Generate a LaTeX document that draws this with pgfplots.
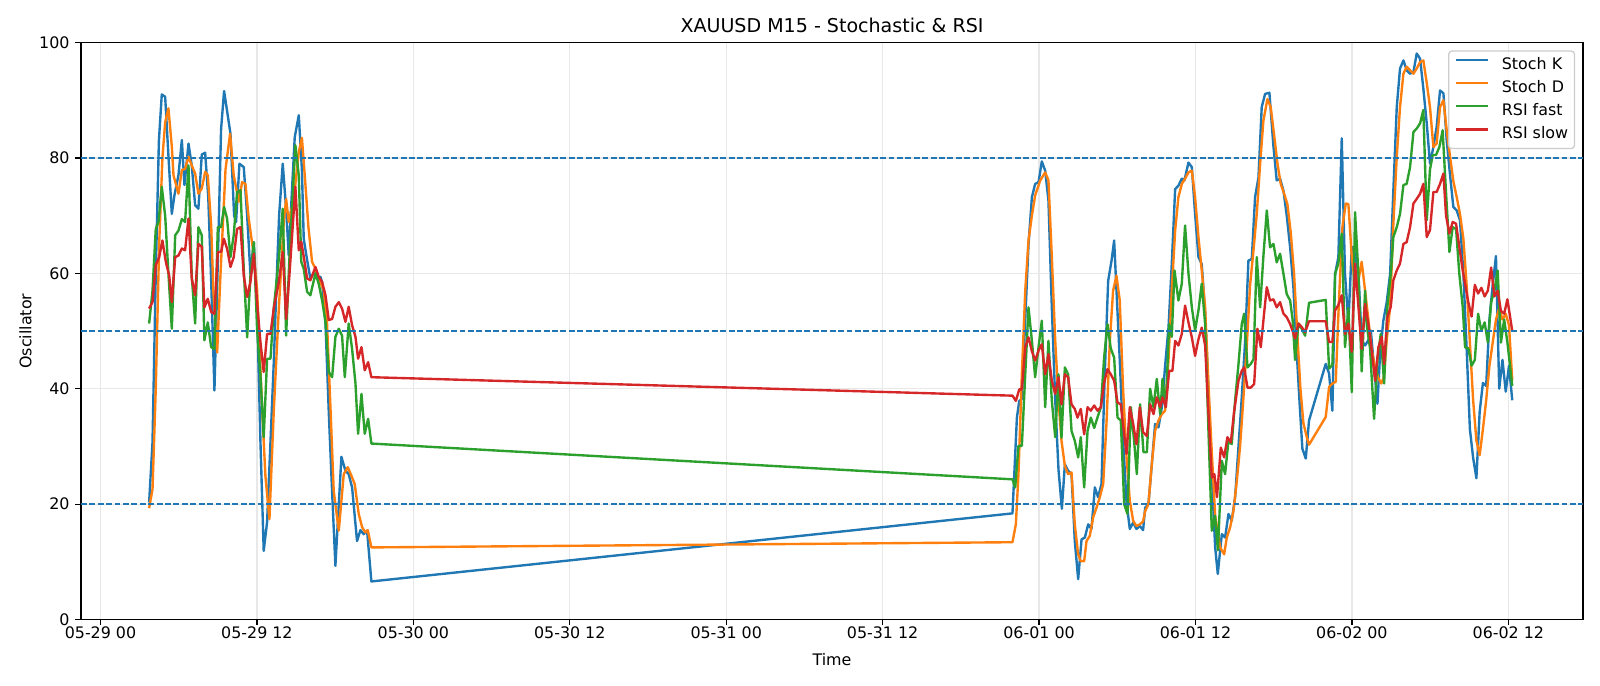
\documentclass[border=0pt]{standalone}
\usepackage{fontspec}
\setmainfont{DejaVu Sans}
\usepackage{pgfplots}
\pgfplotsset{compat=1.18}
\definecolor{tabblue}{HTML}{1F77B4}
\definecolor{taborange}{HTML}{FF7F0E}
\definecolor{tabgreen}{HTML}{2CA02C}
\definecolor{tabred}{HTML}{D62728}
\definecolor{gridgray}{HTML}{E8E8E8}
\definecolor{legframe}{HTML}{CCCCCC}

\begin{document}
\begin{tikzpicture}
% page = 1008pt x 432pt (14in x 6in -> 1600 x 686 px)
\path[use as bounding box] (-51pt,-41.7pt) rectangle (957pt,390.3pt);
\begin{axis}[
    at={(0,0)}, anchor=south west,
    scale only axis, width=946.3pt, height=363.5pt,
    xmin=-1.5, xmax=113.73, ymin=0, ymax=100,
    xtick={0,12,...,108},
    xticklabels={05-29 00,05-29 12,05-30 00,05-30 12,05-31 00,05-31 12,06-01 00,06-01 12,06-02 00,06-02 12},
    ytick={0,20,...,100},
    /pgf/number format/assume math mode=true,
    tick label style={font=\fontsize{10}{12}\selectfont},
    xticklabel style={inner sep=0pt, anchor=north, yshift=-1pt},
    yticklabel style={inner sep=0pt, anchor=east, xshift=-3.5pt},
    tick align=outside, tick pos=left, major tick length=3.5pt,
    tick style={black, line width=0.8pt},
    axis line style={line width=0.8pt},
    grid=major, major grid style={gridgray, line width=0.8pt},
    title={XAUUSD M15 - Stochastic \& RSI},
    every axis title/.style={at={(axis description cs:0.5,1)}, anchor=base, yshift=6.5pt, font=\fontsize{12}{14.4}\selectfont},
    xlabel={Time},
    every axis x label/.style={at={(axis description cs:0.5,0)}, yshift=-25pt, anchor=center, font=\fontsize{10}{12}\selectfont},
    ylabel={Oscillator},
    every axis y label/.style={at={(axis description cs:0,0.5)}, xshift=-35pt, rotate=90, anchor=center, font=\fontsize{10}{12}\selectfont},
    legend style={at={(1,1)}, anchor=north east, xshift=-5pt, yshift=-5pt,
        draw=legframe, line width=0.8pt, rounded corners=2pt, fill=white, fill opacity=0.8, text opacity=1,
        font=\fontsize{10}{12}\selectfont, inner xsep=4pt, inner ysep=4pt, row sep=5pt, column sep=8pt,
        nodes={inner sep=0pt, text height=7.4pt, text depth=2.2pt}},
    legend cell align=left,
    legend image code/.code={\draw[#1] (0pt,3.3pt) -- (20pt,3.3pt);},
    every axis plot/.append style={line width=1.5pt, line join=round, mark=none},
]

% Stoch K
\addplot[tabblue] coordinates {
(3.73,20.3) (3.99,30.7) (4.24,60) (4.48,83) (4.70,91) (4.96,90.6) (5.22,80) (5.47,70.3)
(5.67,73.5) (5.98,77) (6.24,83.1) (6.44,75.3) (6.75,82.5) (7.00,78.7) (7.26,71.8) (7.51,71.2)
(7.77,80.6) (8.03,80.9) (8.27,73) (8.50,58) (8.74,39.7) (9.00,62) (9.25,85) (9.48,91.6)
(9.72,88) (9.97,84.2) (10.25,70) (10.40,68.9) (10.66,79) (10.99,78.4) (11.25,70) (11.50,59.9)
(11.76,65.4) (12.01,53.9) (12.27,30.8) (12.52,11.9) (12.78,16.9) (13.04,30.8) (13.30,45) (13.50,58)
(13.70,70) (13.98,79) (14.24,71.2) (14.44,63.1) (14.68,74) (14.90,83.6) (15.21,87.4) (15.45,78)
(15.59,66) (15.85,62.3) (16.10,59.1) (16.36,60) (16.62,59) (16.87,59.4) (17.00,58.5) (17.26,51.3)
(17.51,36) (17.77,22) (18.02,9.3) (18.28,20) (18.48,28.2) (18.79,25.8) (19.04,25.2) (19.30,22.9)
(19.50,18) (19.68,13.6) (19.94,15.5) (20.19,14.8) (20.45,15.4) (20.78,6.6)
(69.96,18.4) (70.30,35) (70.48,37.9) (70.68,38.2) (70.94,52) (71.19,65) (71.45,73.2) (71.70,75.5)
(71.96,75.8) (72.21,79.4) (72.47,77.8) (72.72,72.6) (72.98,54) (73.24,38) (73.49,26) (73.75,19.2)
(73.98,26.9) (74.23,25.8) (74.49,25.2) (74.74,13.6) (75.00,7) (75.26,13.9) (75.51,14.2) (75.77,16.5)
(76.02,15.7) (76.28,22.9) (76.53,21.2) (76.79,23.5) (77.04,42.5) (77.30,58.7) (77.56,62.2) (77.76,65.7)
(77.94,57) (78.19,45) (78.45,31) (78.71,20.3) (78.96,15.7) (79.22,16.8) (79.47,15.7) (79.73,16.2)
(79.98,15.5) (80.14,19.4) (80.39,20) (80.65,26.9) (80.90,33.9) (81.16,33.3) (81.42,36.8) (81.67,44)
(81.93,50.6) (82.18,61.6) (82.44,74.6) (82.69,75.2) (82.95,76.4) (83.15,76.1) (83.46,79.2) (83.72,78.4)
(83.97,70.3) (84.23,62.8) (84.48,61.6) (84.74,53.1) (84.99,40) (85.25,25) (85.51,12.5) (85.71,7.9)
(86.02,14.8) (86.27,14.2) (86.53,18.3) (86.78,17.1) (87.04,21.2) (87.30,30) (87.55,38.5) (87.81,48.3)
(88.06,62.2) (88.32,62.5) (88.57,73.2) (88.83,76.6) (89.08,88.8) (89.34,91.1) (89.67,91.3) (89.98,82)
(90.23,76.1) (90.49,76.4) (90.75,74.3) (91.00,70) (91.26,64.5) (91.51,57.6) (91.75,47) (92.00,37)
(92.20,29.6) (92.46,27.9) (92.71,34.5) (93.99,44.3) (94.25,42.6) (94.50,36.2) (94.71,59.9) (94.96,62.8)
(95.22,83.4) (95.47,59.9) (95.73,51.3) (95.99,64.6) (96.24,63.4) (96.50,60) (96.75,48.4) (97.01,47.5)
(97.26,48.4) (97.45,50.1) (97.65,44.9) (97.96,37.4) (98.16,46) (98.41,51.8) (98.67,55) (98.93,59.9)
(99.18,74.4) (99.44,88.8) (99.69,95.5) (99.95,96.9) (100.20,95.2) (100.46,94.6) (100.72,94.9) (100.97,98.1)
(101.23,97.2) (101.48,92) (101.74,86) (101.99,79) (102.25,81.9) (102.50,85.4) (102.76,91.7) (103.02,91.2)
(103.27,83.1) (103.53,77) (103.78,71.5) (104.04,70.9) (104.29,69.2) (104.55,60) (104.80,47) (105.05,33)
(105.30,28) (105.55,24.5) (105.80,36) (106.05,41) (106.30,40.5) (106.55,52) (106.80,58) (107.05,63)
(107.30,40) (107.55,45) (107.80,39.5) (108.05,44) (108.30,38)
};
\addlegendentry{Stoch K}

% Stoch D
\addplot[taborange] coordinates {
(3.73,19.3) (3.99,22.6) (4.24,40) (4.50,65) (4.75,80) (4.96,86.2) (5.21,88.6) (5.47,82)
(5.60,77) (5.98,73.8) (6.24,77.9) (6.49,78.1) (6.75,80.2) (7.00,78.7) (7.26,77.3) (7.51,73.8)
(7.77,74.7) (8.03,77.6) (8.23,77) (8.49,68.3) (8.66,56.8) (8.95,46.3) (9.20,59.6) (9.59,78)
(9.94,84.2) (10.22,77) (10.61,72.4) (10.86,75.8) (11.12,75.5) (11.37,69.5) (11.76,63.1) (12.01,57.3)
(12.40,36.5) (12.65,24.9) (12.96,17.4) (13.29,36) (13.68,53.9) (14.06,68.9) (14.24,72.9) (14.44,68.9)
(14.83,72.9) (15.21,81) (15.45,83.5) (15.70,76) (15.95,68) (16.23,62) (16.49,60.8) (16.74,59)
(17.13,57.1) (17.38,51.3) (17.64,36.8) (17.89,22.3) (18.28,15.4) (18.66,25.2) (18.97,26.4) (19.25,24.9)
(19.50,23.5) (19.81,18.3) (20.07,16) (20.32,15.1) (20.50,15.5) (20.78,12.5)
(69.96,13.4) (70.22,16.5) (70.42,25.2) (70.68,42.5) (70.94,57) (71.19,65.7) (71.45,70) (71.70,73.5)
(72.09,76.1) (72.47,77.5) (72.72,76.1) (72.98,62.8) (73.24,48.3) (73.49,38) (73.72,31) (73.98,26.6)
(74.23,25.2) (74.49,25.5) (74.74,16.5) (75.00,11.3) (75.20,10.1) (75.46,10.1) (75.64,13.6) (75.89,14.5)
(76.15,17.7) (76.41,19.4) (76.66,21.2) (76.92,23.5) (77.17,33.9) (77.43,48.3) (77.68,57) (77.94,59.6)
(78.19,55.3) (78.45,39.7) (78.71,28.2) (78.96,20.6) (79.22,17.1) (79.47,16.2) (79.73,16.5) (79.98,17)
(80.14,18.8) (80.39,20) (80.65,27) (80.90,32.7) (81.16,34.5) (81.42,35.6) (81.67,36.2) (81.93,45)
(82.18,57) (82.44,67.4) (82.69,73.2) (82.95,75.5) (83.20,76.4) (83.46,77.5) (83.72,77.8) (83.97,73.2)
(84.23,66.2) (84.48,60.5) (84.74,54.1) (84.99,41) (85.25,29) (85.51,18) (85.89,12.5) (86.20,11.3)
(86.40,14.2) (86.66,16) (86.91,18.8) (87.17,24) (87.42,30) (87.68,38.5) (87.93,47.2) (88.19,58)
(88.45,64) (88.70,70.3) (88.96,79) (89.21,86.5) (89.52,90.2) (89.77,88.8) (90.03,84) (90.29,79)
(90.54,75.5) (90.80,73.8) (91.05,72) (91.31,67) (91.56,60) (91.80,50) (92.05,40) (92.28,34)
(92.54,31.6) (92.71,30.3) (93.99,35.1) (94.25,40.3) (94.50,40.9) (94.76,41.2) (95.00,55) (95.27,68)
(95.53,72.1) (95.73,72) (95.99,62.8) (96.24,58) (96.50,58.8) (96.75,62) (97.01,57) (97.26,52)
(97.50,47) (97.75,44) (98.00,42) (98.25,40.9) (98.45,42) (98.67,48.4) (98.93,54.2) (99.18,68.6)
(99.44,80.2) (99.69,88.8) (99.95,94.6) (100.20,95.8) (100.46,95.2) (100.72,94.6) (100.97,95.5) (101.23,96.6)
(101.48,96.9) (101.74,93) (101.99,88.8) (102.25,81.9) (102.50,82.5) (102.76,88.8) (103.02,90) (103.27,84.8)
(103.53,80.2) (103.78,76) (104.04,73.2) (104.29,70.3) (104.55,66) (104.80,58) (105.05,48) (105.30,38)
(105.55,31) (105.80,28.5) (106.05,33) (106.30,38) (106.55,44) (106.80,48) (107.05,52) (107.30,54)
(107.55,52) (107.80,53) (108.05,51) (108.30,41.5)
};
\addlegendentry{Stoch D}

% RSI fast
\addplot[tabgreen] coordinates {
(3.73,51.3) (3.99,57) (4.24,67.7) (4.45,68.9) (4.70,75) (4.96,70) (5.21,60) (5.47,50.4)
(5.73,66.6) (5.98,67.4) (6.24,69.4) (6.49,68.9) (6.75,78.7) (7.00,59.6) (7.26,51.3) (7.51,68)
(7.77,66.6) (7.97,48.4) (8.23,51.5) (8.49,47.2) (8.74,46.9) (9.00,68) (9.25,68) (9.48,71.5)
(9.71,69.5) (9.97,62.8) (10.22,66.6) (10.48,74.1) (10.74,74.4) (10.99,60.8) (11.25,48.9) (11.50,59.6)
(11.76,65.4) (12.01,50.4) (12.27,42.3) (12.52,31.6) (12.78,45.2) (13.04,45.2) (13.29,53.9) (13.68,62.5)
(13.98,71.2) (14.24,49.2) (14.49,62.5) (14.95,82.2) (15.21,77) (15.40,62) (15.59,60.8) (15.85,56.8)
(16.10,56.2) (16.49,60) (16.74,58.2) (17.00,55.3) (17.26,51.6) (17.51,42.9) (17.77,42) (18.02,49)
(18.28,50.4) (18.53,49.2) (18.74,42) (19.04,51.3) (19.30,46.9) (19.56,40.9) (19.76,32.2) (20.02,39.1)
(20.27,32.2) (20.53,34.8) (20.78,30.5)
(69.96,24.3) (70.17,22.9) (70.42,30.1) (70.68,30.1) (70.94,42.5) (71.19,54.1) (71.45,48.3) (71.70,42)
(71.96,47.2) (72.21,51.8) (72.47,36.8) (72.72,48.3) (72.98,37.9) (73.24,31.6) (73.49,42.5) (73.72,31.5)
(73.98,43.7) (74.23,42.5) (74.49,32.7) (74.74,31) (75.00,28.1) (75.20,31.6) (75.46,22.9) (75.72,32.7)
(75.97,35) (76.23,33.2) (76.48,35) (76.74,36.8) (76.99,45.4) (77.25,51.2) (77.50,47) (77.76,45.4)
(78.02,35) (78.27,34.5) (78.53,20) (78.78,18.3) (79.04,36.8) (79.29,31) (79.50,25.2) (79.75,37.3)
(80.01,29) (80.27,29) (80.52,40) (80.78,36.8) (81.03,41.7) (81.29,35.6) (81.47,41.7) (81.72,36.8)
(81.98,51.2) (82.18,49) (82.39,60.5) (82.69,55.3) (82.95,58.2) (83.20,68.3) (83.46,60) (83.72,54.1)
(83.97,50.1) (84.23,53.6) (84.48,58.2) (84.74,51.2) (84.99,33) (85.25,15.4) (85.50,18) (85.72,12)
(86.02,27.5) (86.27,25.2) (86.53,31) (86.78,30.4) (87.04,38) (87.30,44.3) (87.55,51.2) (87.73,53)
(87.99,43.7) (88.24,44.3) (88.45,45.1) (88.70,62.8) (88.96,54.1) (89.21,63) (89.47,70.9) (89.72,64.5)
(89.98,65.1) (90.23,61.9) (90.49,63.4) (90.75,59.9) (91.00,56.4) (91.26,55.3) (91.45,52) (91.64,45)
(91.90,51.3) (92.15,50.4) (92.41,49.2) (92.71,54.9) (93.99,55.4) (94.25,43.5) (94.50,44.1) (94.71,59.9)
(94.96,61.7) (95.22,66.9) (95.47,47.2) (95.73,54) (95.99,39.4) (96.24,70.6) (96.50,59.9) (96.75,43)
(97.01,57) (97.14,51) (97.39,47) (97.70,34.8) (97.96,45) (98.21,49.5) (98.47,40.9) (98.72,54.2)
(98.98,59.9) (99.18,66.3) (99.44,68) (99.69,70.3) (99.95,75.3) (100.20,75.5) (100.46,78.4) (100.72,84.5)
(100.97,85.1) (101.23,86) (101.48,88.3) (101.74,69.2) (101.99,78) (102.20,80.5) (102.45,80.5) (102.71,81.9)
(102.96,84.8) (103.22,74) (103.48,63.7) (103.73,68) (103.99,67.7) (104.24,59.9) (104.50,54.2) (104.68,47.2)
(104.93,47) (105.18,44) (105.43,45) (105.68,53) (105.93,50) (106.18,51.5) (106.43,48) (106.68,55)
(106.93,57) (107.18,60.5) (107.43,48) (107.68,52) (107.93,48) (108.30,40.5)
};
\addlegendentry{RSI fast}

% RSI slow
\addplot[tabred] coordinates {
(3.73,53.9) (3.99,55) (4.24,61.4) (4.50,62.8) (4.75,65.7) (5.01,62) (5.27,59.6) (5.47,55)
(5.73,62.8) (5.98,63.1) (6.24,64.3) (6.49,64) (6.75,69.5) (7.00,59.1) (7.26,56.2) (7.51,65.1)
(7.77,64.6) (7.97,54.1) (8.23,55.6) (8.49,53.3) (8.74,53) (9.00,63.7) (9.25,63.7) (9.46,66)
(9.71,64.3) (9.97,61.1) (10.22,62.8) (10.48,67.7) (10.74,68) (10.99,59.6) (11.25,55.9) (11.50,58.5)
(11.76,63.4) (12.01,55) (12.27,48.1) (12.52,42.9) (12.78,49.5) (13.04,49.5) (13.29,53.9) (13.68,58.5)
(13.98,63.7) (14.24,52.1) (14.49,59.6) (14.95,75) (15.21,64) (15.40,65.5) (15.59,62.9) (15.85,59.1)
(16.10,58.8) (16.49,61.1) (16.74,59.4) (17.00,58.5) (17.26,56.2) (17.51,51.9) (17.77,52.1) (18.02,54.2)
(18.28,55) (18.53,53.9) (18.79,51.6) (19.04,54.2) (19.30,51) (19.56,49) (19.76,45.2) (20.02,47.2)
(20.27,43.2) (20.53,44.6) (20.78,42)
(69.96,38.8) (70.22,37.9) (70.48,39.9) (70.68,39.9) (70.94,47.2) (71.19,48.9) (71.45,46.5) (71.70,44.9)
(71.96,46.6) (72.21,47.7) (72.47,42.5) (72.72,46) (72.98,41.4) (73.24,39.1) (73.49,42) (73.72,37.3)
(73.98,42.5) (74.23,42) (74.49,37.3) (74.74,36.5) (74.95,35) (75.20,36.5) (75.46,32.1) (75.72,36.8)
(75.97,36.2) (76.23,37.1) (76.48,36.2) (76.74,36.8) (76.99,41) (77.25,43.4) (77.50,42.5) (77.76,41.4)
(78.02,37.6) (78.27,37.3) (78.53,32.1) (78.71,28.7) (78.96,36.8) (79.22,33.9) (79.47,30.4) (79.73,36.8)
(79.98,32.5) (80.27,31.8) (80.52,37.3) (80.78,35.6) (81.03,38.5) (81.29,36.8) (81.47,38.5) (81.72,36.8)
(81.98,43.1) (82.23,43.1) (82.44,48.3) (82.69,47.5) (82.95,49.5) (83.20,54.4) (83.46,51.5) (83.72,48.9)
(83.97,45.7) (84.23,48.6) (84.48,50.6) (84.74,47.5) (84.99,36) (85.25,24.6) (85.45,25.2) (85.65,21.2)
(85.94,29.8) (86.20,28.1) (86.45,31.6) (86.71,30.7) (86.96,36) (87.30,41.4) (87.55,43.1) (87.73,43.7)
(87.99,40.2) (88.24,40.2) (88.50,40.8) (88.75,50.4) (89.01,47.2) (89.26,53) (89.47,57.6) (89.72,55.3)
(89.98,55.5) (90.23,54.1) (90.49,55) (90.75,53) (91.00,52.4) (91.26,51.2) (91.45,50) (91.64,48.7)
(91.90,51.3) (92.15,50.7) (92.41,49.8) (92.71,51.7) (93.99,51.7) (94.25,48.1) (94.50,48.1) (94.71,53.6)
(94.96,54.5) (95.22,56.2) (95.47,49.5) (95.73,51.3) (95.99,46.4) (96.24,61.7) (96.50,54.2) (96.75,46.9)
(97.01,54.7) (97.26,51.3) (97.52,46.6) (97.78,41.4) (98.03,47.2) (98.29,49) (98.47,44.3) (98.72,52.4)
(98.98,54.2) (99.18,58.8) (99.44,60.5) (99.69,61.7) (99.95,65.1) (100.20,65.4) (100.46,68) (100.72,72.1)
(100.97,72.9) (101.23,73.8) (101.48,75.5) (101.74,66.3) (101.99,67.5) (102.25,74.1) (102.50,74.1) (102.76,75.5)
(103.02,77.3) (103.22,70) (103.48,66.9) (103.73,68.9) (103.99,68.6) (104.24,64.6) (104.50,60.5) (104.68,58.2)
(104.93,55) (105.18,52.5) (105.43,58) (105.68,56.5) (105.93,57.5) (106.18,56) (106.43,57) (106.68,61)
(106.93,56) (107.18,57) (107.43,53.5) (107.68,53) (107.93,55.5) (108.30,50)
};
\addlegendentry{RSI slow}

% reference levels
\addplot[tabblue, line width=1pt, dash pattern=on 3.7pt off 1.6pt, forget plot] coordinates {(-1.5,80) (113.73,80)};
\addplot[tabblue, line width=1pt, dash pattern=on 3.7pt off 1.6pt, forget plot] coordinates {(-1.5,50) (113.73,50)};
\addplot[tabblue, line width=1pt, dash pattern=on 3.7pt off 1.6pt, forget plot] coordinates {(-1.5,20) (113.73,20)};
\end{axis}
\end{tikzpicture}
\end{document}
